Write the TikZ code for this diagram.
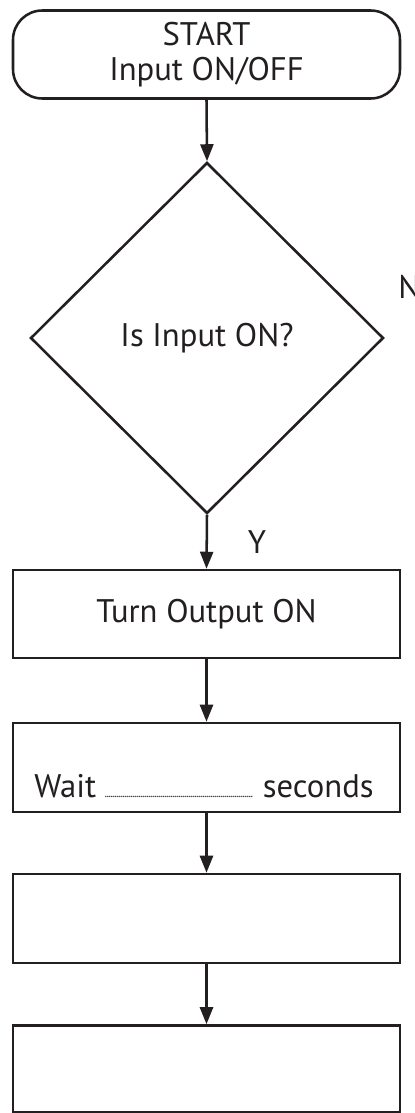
\documentclass[tikz,border=0pt]{standalone}
\usepackage{fontspec}
\setmainfont{PT Sans}
\usetikzlibrary{shapes.geometric,arrows.meta}
\definecolor{ink}{HTML}{231F20}
\begin{document}
\begin{tikzpicture}[x=0.75pt,y=-0.75pt,
  every node/.style={text=ink,font=\fontsize{24.5}{26.5}\selectfont},
  flowbox/.style={draw=ink,line width=1.9pt,rectangle,minimum width=290.25pt,minimum height=66pt,inner sep=0pt,align=center},
  startbox/.style={flowbox,rounded corners=22pt},
  decision/.style={draw=ink,line width=1.9pt,diamond,minimum width=264.75pt,minimum height=263.25pt,inner sep=0pt,aspect=1},
  flowarrow/.style={draw=ink,line width=1.9pt,-{Triangle[width=9.75pt,length=12.75pt]}}]
\useasboundingbox (0,0) rectangle (414,1113);
\node[startbox] (start) at (206.5,54.5) {START\\Input ON/OFF};
\node[decision] (dec) at (207,338) {};
\node (q) at (207,338) {Is Input ON?};
\node[flowbox] (on) at (206.5,614) {Turn Output ON};
\node[flowbox,minimum height=66.75pt] (wait) at (206.5,767.5) {};
\node[anchor=base] (waitlbl) at (204,797) {Wait\ \makebox[112pt]{\fontsize{9}{9}\selectfont\leaders\hbox to 1.5pt{\hss.\hss}\hfill}\ seconds};
\node[flowbox,minimum height=66.75pt] (b4) at (206.5,918.5) {};
\node[flowbox,minimum height=65.25pt] (b5) at (206.5,1069) {};
\node[anchor=base west,inner sep=0pt] (nlbl) at (398,298) {N};
\node[anchor=base] (ylbl) at (257,553) {Y};
\draw[flowarrow] (start.south) -- (dec.north);
\draw[flowarrow] (dec.south) -- (on.north);
\draw[flowarrow] (on.south) -- (wait.north);
\draw[flowarrow] (wait.south) -- (b4.north);
\draw[flowarrow] (b4.south) -- (b5.north);
\end{tikzpicture}
\end{document}
